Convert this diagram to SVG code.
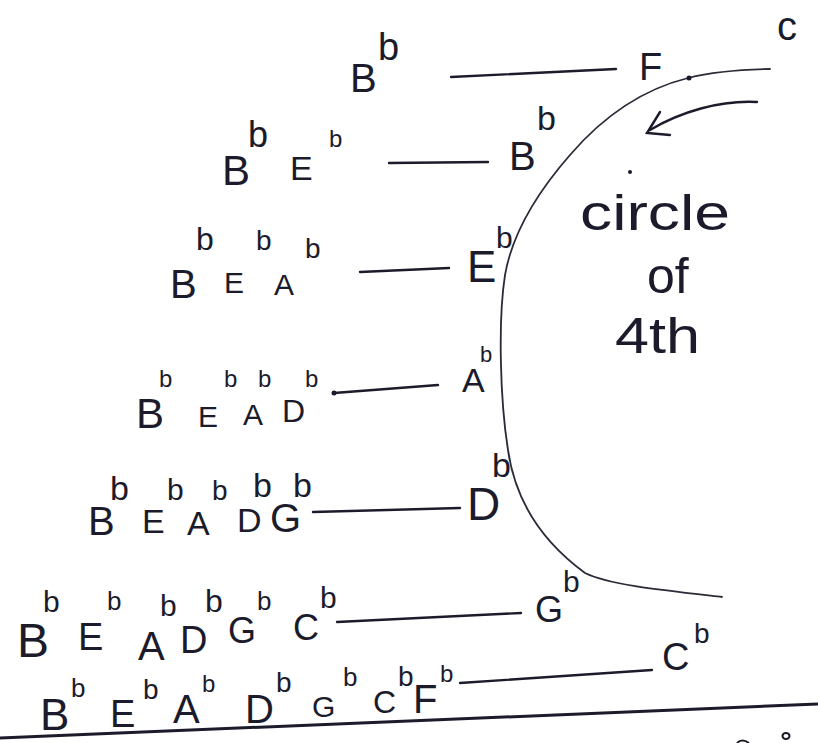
<svg xmlns="http://www.w3.org/2000/svg" width="818" height="743" viewBox="0 0 818 743">
<style>
text{font-family:"Liberation Sans",Arial,sans-serif;fill:#1b1b2b}
.c{stroke:#1b1b2b;stroke-width:2.4;fill:none;stroke-linecap:round}
.arc{stroke:#2a2a38;stroke-width:1.8;fill:none;stroke-linecap:round}
</style>
<rect width="818" height="743" fill="#ffffff"/>

<g id="row1-left"><text x="350" y="92" font-size="40">B</text><text x="378" y="60" font-size="38">b</text></g>
<g id="row1-right"><text x="639" y="80" font-size="38">F</text></g>

<g id="row2-left"><text x="222" y="185" font-size="42">B</text><text x="248" y="147" font-size="36">b</text><text x="290" y="180" font-size="34">E</text><text x="329" y="147" font-size="24">b</text></g>
<g id="row2-right"><text x="509" y="170" font-size="40">B</text><text x="537" y="130" font-size="34">b</text></g>

<g id="row3-left"><text x="170" y="298" font-size="40">B</text><text x="196" y="250" font-size="32">b</text><text x="224" y="293" font-size="30">E</text><text x="256" y="250" font-size="28">b</text><text x="274" y="295" font-size="30">A</text><text x="305" y="258" font-size="28">b</text></g>
<g id="row3-right"><text x="467" y="282" font-size="44">E</text><text x="496" y="248" font-size="30">b</text></g>

<g id="row4-left"><text x="159" y="387" font-size="24">b</text><text x="224" y="387" font-size="24">b</text><text x="258" y="387" font-size="24">b</text><text x="305" y="387" font-size="24">b</text><text x="136" y="428" font-size="42">B</text><text x="198" y="427" font-size="30">E</text><text x="243" y="425" font-size="30">A</text><text x="282" y="422" font-size="32">D</text></g>
<g id="row4-right"><text x="462" y="392" font-size="34">A</text><text x="480" y="362" font-size="22">b</text></g>

<g id="row5-left"><text x="110" y="500" font-size="34">b</text><text x="167" y="500" font-size="30">b</text><text x="212" y="500" font-size="28">b</text><text x="253" y="497" font-size="34">b</text><text x="293" y="497" font-size="34">b</text><text x="88" y="535" font-size="40">B</text><text x="142" y="533" font-size="34">E</text><text x="187" y="535" font-size="34">A</text><text x="237" y="532" font-size="34">D</text><text x="270" y="532" font-size="40">G</text></g>
<g id="row5-right"><text x="467" y="520" font-size="46">D</text><text x="492" y="477" font-size="34">b</text></g>

<g id="row6-left"><text x="43" y="612" font-size="30">b</text><text x="107" y="610" font-size="26">b</text><text x="160" y="616" font-size="30">b</text><text x="205" y="612" font-size="32">b</text><text x="257" y="610" font-size="26">b</text><text x="320" y="608" font-size="30">b</text><text x="17" y="657" font-size="48">B</text><text x="78" y="650" font-size="38">E</text><text x="138" y="660" font-size="40">A</text><text x="180" y="653" font-size="38">D</text><text x="228" y="643" font-size="36">G</text><text x="293" y="640" font-size="36">C</text></g>
<g id="row6-right"><text x="535" y="622" font-size="36">G</text><text x="563" y="592" font-size="30">b</text></g>

<g id="row7-left"><text x="40" y="730" font-size="44">B</text><text x="71" y="697" font-size="26">b</text><text x="110" y="727" font-size="38">E</text><text x="143" y="699" font-size="28">b</text><text x="173" y="723" font-size="40">A</text><text x="202" y="692" font-size="24">b</text><text x="245" y="723" font-size="40">D</text><text x="276" y="692" font-size="28">b</text><text x="312" y="717" font-size="30">G</text><text x="343" y="686" font-size="26">b</text><text x="373" y="713" font-size="32">C</text><text x="398" y="686" font-size="28">b</text><text x="413" y="713" font-size="40">F</text><text x="440" y="682" font-size="24">b</text></g>
<g id="row7-right"><text x="662" y="670" font-size="38">C</text><text x="694" y="643" font-size="28">b</text></g>

<g id="circle-label"><text x="580" y="230" font-size="50" textLength="150" lengthAdjust="spacingAndGlyphs">circle</text><text x="647" y="293" font-size="50">of</text><text x="615" y="353" font-size="50" textLength="85" lengthAdjust="spacingAndGlyphs">4th</text></g>
<g id="corner-label"><text x="777" y="40" font-size="40">c</text></g>

<g id="connectors">
<path class="c" d="M451 77 L616 69"/>
<path class="c" d="M389 163 L488 162"/>
<path class="c" d="M360 272 L449 268"/>
<path class="c" d="M334 393 L438 385"/>
<circle cx="334" cy="393" r="2.5" fill="#1b1b2b"/>
<path class="c" d="M313 512 L460 508"/>
<path class="c" d="M337 622 L521 613"/>
<path class="c" d="M460 683 L652 670"/>
<path class="arc" d="M770 69 Q720 70 688 78 C640 90 600 120 570 155 C535 195 512 235 505 275 C498 320 500 400 508 450 C515 500 540 540 585 573 C610 585 660 590 722 597"/>
<circle cx="689" cy="78" r="2.5" fill="#1b1b2b"/>
<path class="c" d="M757 102 C720 100 680 112 650 130"/>
<path class="c" d="M660 112 L647 133 L670 135"/>
<circle cx="630" cy="172" r="2" fill="#1b1b2b"/>
<path d="M0 738 L818 704" stroke="#1b1b2b" stroke-width="3" fill="none"/>
<ellipse cx="786" cy="736" rx="3.5" ry="3" fill="none" stroke="#1b1b2b" stroke-width="2"/>
<path d="M737 743 Q742 738 749 743" fill="none" stroke="#1b1b2b" stroke-width="2"/>
</g>
</svg>
